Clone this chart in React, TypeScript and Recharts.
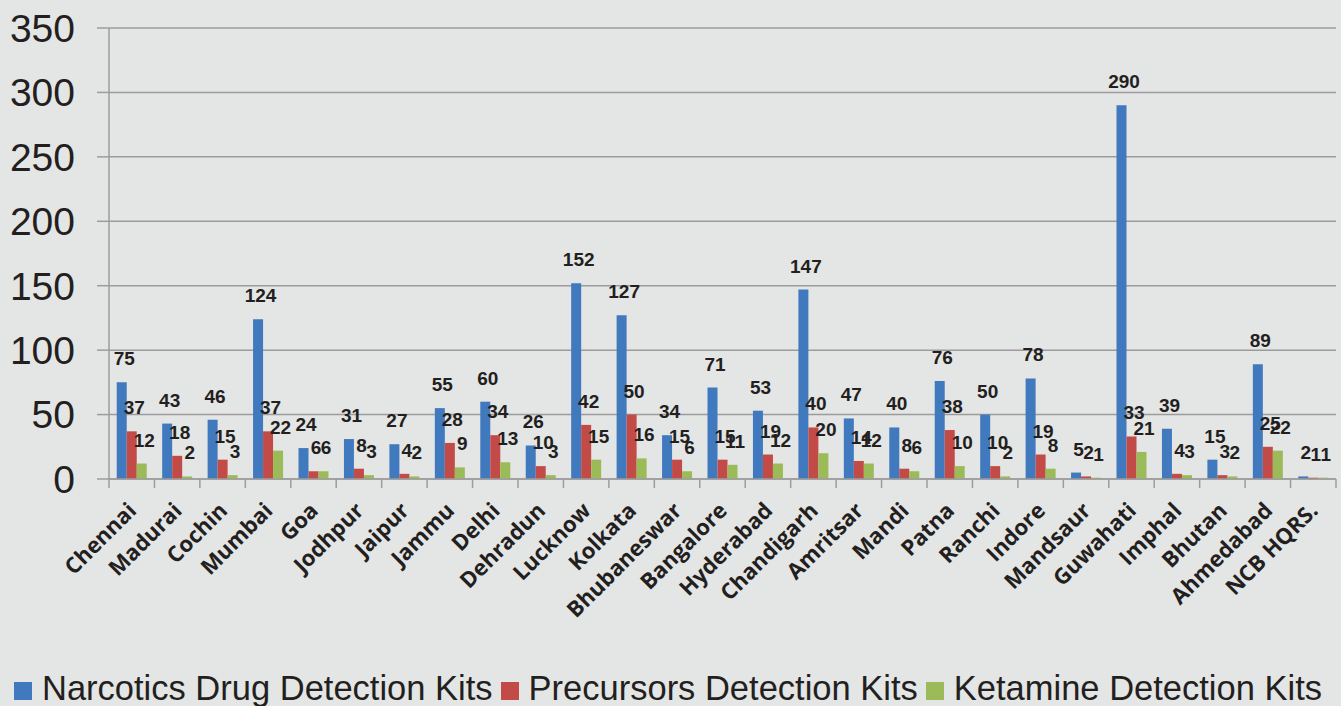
import React from "react";
import {
  BarChart,
  Bar,
  XAxis,
  YAxis,
  CartesianGrid,
  Legend,
  LabelList,
} from "recharts";

const categories = [
  "Chennai", "Madurai", "Cochin", "Mumbai", "Goa", "Jodhpur", "Jaipur", "Jammu",
  "Delhi", "Dehradun", "Lucknow", "Kolkata", "Bhubaneswar", "Bangalore", "Hyderabad",
  "Chandigarh", "Amritsar", "Mandi", "Patna", "Ranchi", "Indore", "Mandsaur",
  "Guwahati", "Imphal", "Bhutan", "Ahmedabad", "NCB HQRS.",
];
const narcotics = [75, 43, 46, 124, 24, 31, 27, 55, 60, 26, 152, 127, 34, 71, 53, 147, 47, 40, 76, 50, 78, 5, 290, 39, 15, 89, 2];
const precursors = [37, 18, 15, 37, 6, 8, 4, 28, 34, 10, 42, 50, 15, 15, 19, 40, 14, 8, 38, 10, 19, 2, 33, 4, 3, 25, 1];
const ketamine = [12, 2, 3, 22, 6, 3, 2, 9, 13, 3, 15, 16, 6, 11, 12, 20, 12, 6, 10, 2, 8, 1, 21, 3, 2, 22, 1];
const yTicks = [0, 50, 100, 150, 200, 250, 300, 350];
const seriesNames = [
  "Narcotics Drug Detection Kits",
  "Precursors Detection Kits",
  "Ketamine Detection Kits",
];

const data = categories.map((name, i) => ({
  name,
  narcotics: narcotics[i],
  precursors: precursors[i],
  ketamine: ketamine[i],
}));

const W = 1341;
const H = 706;
const PLOT_LEFT = 109;
const PLOT_RIGHT = 1336;
const BW = (PLOT_RIGHT - PLOT_LEFT) / categories.length;
const GRID = "#9c9c9c";
const TEXT = "#231f20";
const COLORS = ["#4179BF", "#C24B47", "#9BBB59"];

const XTick = (props: any) => {
  const { x, y, payload, index } = props;
  const left = x - BW / 2;
  const right = x + BW / 2;
  return (
    <g>
      <line x1={left} y1={y} x2={left} y2={y + 9} stroke={GRID} strokeWidth={1.5} />
      {index === categories.length - 1 && (
        <line x1={right} y1={y} x2={right} y2={y + 9} stroke={GRID} strokeWidth={1.5} />
      )}
      <text
        x={0}
        y={0}
        transform={`translate(${x + 6},${y + 33}) rotate(-45)`}
        textAnchor="end"
        fontFamily="'Open Sans', sans-serif"
        fontWeight={700}
        fontSize={22}
        fill={TEXT}
      >
        {payload.value}
      </text>
    </g>
  );
};

const makeLabel = (props: any) => {
  const { x, y, width, value } = props;
  return (
    <text
      x={x + width / 2 + 2.5}
      y={y - 17}
      textAnchor="middle"
      fontFamily="'Liberation Sans', Arial, sans-serif"
      fontWeight={700}
      fontSize={19}
      fill={TEXT}
    >
      {value}
    </text>
  );
};

const renderLegend = () => (
  <div
    style={{
      height: 35,
      display: "flex",
      justifyContent: "center",
      alignItems: "center",
      fontFamily: "'Liberation Sans', Arial, sans-serif",
      fontSize: 34.5,
      lineHeight: "35px",
      color: TEXT,
      whiteSpace: "nowrap",
    }}
  >
    {seriesNames.map((n, i) => (
      <div key={n} style={{ display: "flex", alignItems: "center", marginRight: i < 2 ? 8 : 0 }}>
        <div style={{ width: 18, height: 18, background: COLORS[i], marginRight: 10, marginTop: 4 }} />
        <span>{n}</span>
      </div>
    ))}
  </div>
);

export default function App() {
  return (
    <div
      style={{
        position: "absolute",
        left: 0,
        top: 0,
        width: W,
        height: H,
        background: "#E4E5E5",
        overflow: "hidden",
      }}
    >
      <BarChart
        width={W}
        height={H}
        data={data}
        margin={{ top: 28, right: W - PLOT_RIGHT, bottom: 0, left: 0 }}
        barCategoryGap="17%"
        barGap={0}
      >
        <CartesianGrid vertical={false} stroke={GRID} strokeWidth={1.5} />
        <YAxis
          width={PLOT_LEFT}
          domain={[0, 350]}
          ticks={yTicks}
          interval={0}
          tickSize={12}
          tickMargin={22}
          axisLine={{ stroke: GRID, strokeWidth: 1.5 }}
          tickLine={{ stroke: GRID, strokeWidth: 1.5 }}
          tick={{ fontSize: 39, fill: TEXT, fontFamily: "'Liberation Sans', Arial, sans-serif" }}
        />
        <XAxis
          dataKey="name"
          interval={0}
          height={192}
          tickSize={0}
          tickMargin={0}
          tickLine={false}
          axisLine={{ stroke: GRID, strokeWidth: 1.5 }}
          tick={<XTick />}
        />
        <Legend verticalAlign="bottom" content={renderLegend} />
        <Bar dataKey="narcotics" name={seriesNames[0]} fill={COLORS[0]} isAnimationActive={false}>
          <LabelList dataKey="narcotics" content={makeLabel} />
        </Bar>
        <Bar dataKey="precursors" name={seriesNames[1]} fill={COLORS[1]} isAnimationActive={false}>
          <LabelList dataKey="precursors" content={makeLabel} />
        </Bar>
        <Bar dataKey="ketamine" name={seriesNames[2]} fill={COLORS[2]} isAnimationActive={false}>
          <LabelList dataKey="ketamine" content={makeLabel} />
        </Bar>
      </BarChart>
    </div>
  );
}
